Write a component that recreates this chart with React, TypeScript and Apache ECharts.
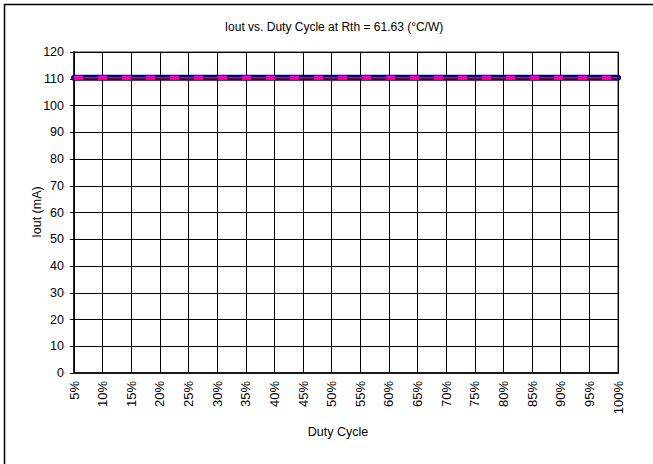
import React, { useEffect, useRef } from "react";
import * as echarts from "echarts";

const categories = ["5%", "10%", "15%", "20%", "25%", "30%", "35%", "40%", "45%", "50%", "55%", "60%", "65%", "70%", "75%", "80%", "85%", "90%", "95%", "100%"];
const navySeries = [110.4, 110.4, 110.4, 110.4, 110.4, 110.4, 110.4, 110.4, 110.4, 110.4, 110.4, 110.4, 110.4, 110.4, 110.4, 110.4, 110.4, 110.4, 110.4, 110.4];
const magentaSeries = [110.4, 110.4, 110.4, 110.4, 110.4, 110.4, 110.4, 110.4, 110.4, 110.4, 110.4, 110.4, 110.4, 110.4, 110.4, 110.4, 110.4, 110.4, 110.4, 110.4];
const redSeries = [110.4, 110.4, 110.4, 110.4, 110.4, 110.4, 110.4, 110.4, 110.4, 110.4, 110.4, 110.4, 110.4, 110.4, 110.4, 110.4, 110.4, 110.4, 110.4, 110.4];
const yMin = 0;
const yMax = 120;
const yStep = 10;

const FONT = "'Liberation Sans', Arial, sans-serif";

export default function App() {
  const ref = useRef<HTMLDivElement>(null);
  useEffect(() => {
    document.body.style.margin = "0";
    const chart = echarts.init(ref.current!, null, { renderer: "svg" });
    chart.setOption({
      animation: false,
      backgroundColor: "#ffffff",
      textStyle: { fontFamily: FONT },
      graphic: [
        {
          type: "rect",
          shape: { x: 4.5, y: 4.5, width: 700, height: 500 },
          style: { fill: "none", stroke: "#000000", lineWidth: 1.5 },
          z: 0,
        },
        {
          type: "text",
          x: 334,
          y: 27,
          style: {
            text: "Iout vs. Duty Cycle at Rth = 61.63 (°C/W)",
            font: `12px ${FONT}`,
            fill: "#000",
            textAlign: "center",
            textVerticalAlign: "middle",
          },
        },
        {
          type: "text",
          x: 338,
          y: 432,
          style: {
            text: "Duty Cycle",
            font: `12.5px ${FONT}`,
            fill: "#000",
            textAlign: "center",
            textVerticalAlign: "middle",
          },
        },
        {
          type: "text",
          x: 37,
          y: 212,
          rotation: Math.PI / 2,
          style: {
            text: "Iout (mA)",
            font: `12.5px ${FONT}`,
            fill: "#000",
            textAlign: "center",
            textVerticalAlign: "middle",
          },
        },
      ],
      grid: {
        left: 74,
        right: 35,
        top: 52,
        bottom: 91,
        show: true,
        borderColor: "#999999",
        borderWidth: 2,
        backgroundColor: "#ffffff",
      },
      xAxis: {
        type: "category",
        data: categories,
        boundaryGap: false,
        axisLine: { show: true, lineStyle: { color: "#1a1a1a", width: 2 } },
        axisTick: { show: false },
        axisLabel: {
          rotate: 90,
          color: "#000",
          fontSize: 13,
          fontFamily: FONT,
          margin: 8,
          interval: 0,
        },
        splitLine: { show: true, interval: 0, lineStyle: { color: "#000", width: 1 } },
      },
      yAxis: {
        type: "value",
        min: yMin,
        max: yMax,
        interval: yStep,
        axisLine: { show: true, lineStyle: { color: "#000", width: 1.5 } },
        axisTick: { show: true, length: 4, lineStyle: { color: "#000" } },
        axisLabel: { color: "#000", fontSize: 12.5, fontFamily: FONT, margin: 10 },
        splitLine: { show: true, lineStyle: { color: "#000", width: 1 } },
      },
      series: [
        {
          type: "line",
          data: navySeries,
          symbol: "none",
          lineStyle: { color: "#000080", width: 6, cap: "round" },
          z: 3,
        },
        {
          type: "line",
          data: magentaSeries,
          symbol: "none",
          lineStyle: { color: "#ff00ff", width: 4, type: [9, 15] },
          z: 4,
        },
        {
          type: "line",
          data: redSeries,
          symbol: "none",
          lineStyle: { color: "#ff0000", width: 1.5 },
          z: 5,
        },
      ],
    });
    return () => chart.dispose();
  }, []);
  return <div ref={ref} style={{ width: 653, height: 464 }} />;
}
